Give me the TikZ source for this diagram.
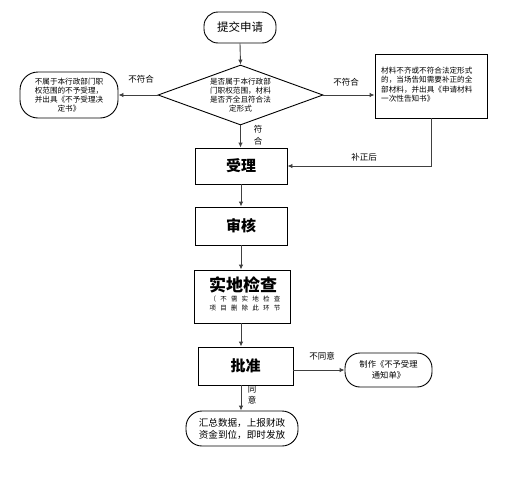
\documentclass[tikz,border=0pt]{standalone}
\usepackage{fontspec}
\setmainfont{Noto Sans CJK SC}
\newfontfamily\cjkspaced[LetterSpace=65]{Noto Sans CJK SC}
\usetikzlibrary{shapes.geometric,arrows.meta}
\tikzset{
  box/.style={draw=black, line width=0.9pt, fill=white, inner sep=0pt, align=center},
  term/.style={box, rounded corners=14pt},
  title/.style={font=\fontsize{15}{17}\selectfont\bfseries},
  small/.style={font=\fontsize{7.6}{9.2}\selectfont},
  lab/.style={font=\fontsize{8.5}{10}\selectfont, inner sep=0pt},
  conn/.style={draw=black!75, line width=0.9pt, -{Latex[length=5pt,width=4.5pt]}},
}
\begin{document}
\begin{tikzpicture}[x=1pt,y=-1pt]
\useasboundingbox[fill=white] (0,0) rectangle (518,482);
% nodes
\node[term, minimum width=72pt, minimum height=31pt, font=\fontsize{11.5}{13}\selectfont] (start) at (240,27.5) {提交申请};
\node[box, shape=diamond, aspect=2.75, minimum width=165pt, minimum height=60pt, small] (dia) at (240.5,95) {是否属于本行政部\\门职权范围，材料\\是否齐全且符合法\\定形式};
\node[term, rounded corners=18pt, minimum width=98pt, minimum height=46pt, small] (lterm) at (69,95) {不属于本行政部门职\\权范围的不予受理，\\并出具《不予受理决\\定书》};
\node[box, minimum width=112pt, minimum height=64pt] (rbox) at (431,86) {};
\node[small, align=left, anchor=north west, inner sep=0pt] (rtext) at (381,67) {材料不齐或不符合法定形式\\的，当场告知需要补正的全\\部材料，并出具《申请材料\\一次性告知书》};
\node[box, minimum width=92pt, minimum height=36pt, title] (sl) at (241,166) {受理};
\node[box, minimum width=92pt, minimum height=38pt, title] (sh) at (241,226) {审核};
\node[box, minimum width=96pt, minimum height=53pt] (sd) at (242,296.5) {};
\node[font=\fontsize{17}{19}\selectfont\bfseries, inner sep=0pt] (sdt) at (243,285) {实地检查};
\node[font=\fontsize{6.5}{9}\selectfont\cjkspaced, inner sep=0pt, align=center] (sds) at (245,303) {（不需实地检查\\项目删除此环节};
\node[box, minimum width=95pt, minimum height=38pt, title] (pz) at (245.5,366) {批准};
\node[term, rounded corners=15pt, minimum width=87pt, minimum height=34pt, font=\fontsize{8.3}{10.5}\selectfont] (rterm) at (388.5,370) {制作《不予受理\\通知单》};
\node[term, rounded corners=16pt, minimum width=112pt, minimum height=35pt, font=\fontsize{9.6}{12}\selectfont] (bterm) at (242,428.5) {汇总数据，上报财政\\资金到位，即时发放};
% connectors
\coordinate (c1) at (241,0);
\draw[conn] (start.south) -- (dia.north);
\draw[conn] (dia.west) -- (lterm.east);
\draw[conn] (dia.east) -- (dia.east -| rbox.west);
\draw[conn] (dia.south) -- (dia.south |- sl.north);
\draw[conn] (rbox.south) |- (sl.east);
\draw[conn] (sl.south -| c1) -- (sh.north -| c1);
\draw[conn] (sh.south -| c1) -- (sd.north -| c1);
\draw[conn] (sd.south -| c1) -- (pz.north -| c1);
\draw[conn] (pz.east |- rterm.west) -- (rterm.west);
\draw[conn] (pz.south -| c1) -- (bterm.north -| c1);
% labels
\node[lab] (l1) at (141,79) {不符合};
\node[lab] (l2) at (346,82) {不符合};
\node[lab, align=center, font=\fontsize{8.5}{11.5}\selectfont] (l3) at (258,135) {符\\合};
\node[lab] (l4) at (364,157) {补正后};
\node[lab] (l5) at (322,356) {不同意};
\node[lab, align=center, font=\fontsize{8.5}{11.5}\selectfont] (l6) at (252,395) {同\\意};
\end{tikzpicture}
\end{document}
